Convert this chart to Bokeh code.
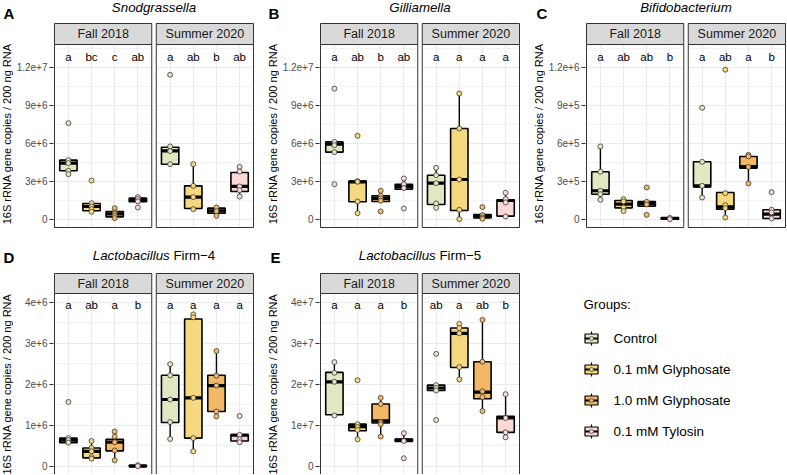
import math
from bokeh.plotting import figure
from bokeh.models import FixedTicker, CustomJSTickFormatter, Range1d
from bokeh.layouts import row, column
from bokeh.embed import file_html
from bokeh.resources import INLINE
from bokeh.core.properties import value

FONT = "Liberation Sans"

GROUPS = ["Control", "0.1 mM Glyphosate", "1.0 mM Glyphosate", "0.1 mM Tylosin"]
GROUP_COLORS = ["#E1E7C1", "#F6D880", "#F2B866", "#F8D9D6"]
SEASONS = ["Fall 2018", "Summer 2020"]
Y_LABEL = "16S rRNA gene copies / 200 ng RNA"

# ---------------- A: Snodgrassella ----------------
snod_ticks = [0, 3e6, 6e6, 9e6, 12e6]
snod_minor = [1.5e6, 4.5e6, 7.5e6, 10.5e6, 13.5e6]
snod_letters = [["a", "bc", "c", "ab"], ["a", "ab", "b", "ab"]]
snod_lo = [[3.55e6, 0.58e6, 0.08e6, 1.37e6], [4.34e6, 0.79e6, 0.26e6, 1.79e6]]
snod_q1 = [[3.82e6, 0.66e6, 0.18e6, 1.37e6], [4.34e6, 0.84e6, 0.47e6, 2.18e6]]
snod_med = [[4.42e6, 1.00e6, 0.42e6, 1.53e6], [5.39e6, 1.74e6, 0.66e6, 2.58e6]]
snod_q3 = [[4.66e6, 1.24e6, 0.60e6, 1.66e6], [5.68e6, 2.63e6, 0.87e6, 3.68e6]]
snod_hi = [[4.66e6, 1.26e6, 0.87e6, 1.74e6], [5.74e6, 4.34e6, 0.92e6, 4.13e6]]
snod_pts = [
    [[7.58e6, 4.66e6, 4.42e6, 3.82e6, 3.55e6], [3.05e6, 1.26e6, 1.00e6, 0.79e6, 0.58e6],
     [0.87e6, 0.53e6, 0.42e6, 0.26e6, 0.08e6], [1.74e6, 1.58e6, 1.40e6, 0.92e6]],
    [[11.4e6, 5.74e6, 5.37e6, 4.34e6], [4.34e6, 2.63e6, 1.74e6, 0.79e6],
     [0.92e6, 0.63e6, 0.26e6], [4.13e6, 3.76e6, 2.58e6, 2.29e6, 1.79e6]],
]

# ---------------- B: Gilliamella ----------------
gill_ticks = [0, 3e6, 6e6, 9e6, 12e6]
gill_minor = [1.5e6, 4.5e6, 7.5e6, 10.5e6, 13.5e6]
gill_letters = [["a", "ab", "b", "ab"], ["a", "a", "a", "a"]]
gill_lo = [[5.29e6, 0.47e6, 1.39e6, 2.37e6], [0.89e6, 0.00e6, 0.10e6, 0.21e6]]
gill_q1 = [[5.29e6, 1.37e6, 1.39e6, 2.37e6], [1.16e6, 0.68e6, 0.10e6, 0.24e6]]
gill_med = [[5.92e6, 2.95e6, 1.63e6, 2.58e6], [2.84e6, 3.13e6, 0.24e6, 1.47e6]]
gill_q3 = [[6.10e6, 3.00e6, 1.84e6, 2.76e6], [3.47e6, 7.16e6, 0.37e6, 1.53e6]]
gill_hi = [[6.10e6, 3.00e6, 2.24e6, 3.21e6], [4.05e6, 9.92e6, 0.37e6, 2.08e6]]
gill_pts = [
    [[10.3e6, 6.10e6, 5.84e6, 5.29e6, 2.76e6], [6.58e6, 3.00e6, 2.95e6, 1.39e6, 0.47e6],
     [2.24e6, 1.84e6, 1.63e6, 1.45e6, 0.61e6], [3.21e6, 2.76e6, 2.45e6, 0.84e6]],
    [[4.05e6, 3.47e6, 2.84e6, 1.24e6, 0.89e6], [9.92e6, 7.16e6, 3.13e6, 0.74e6, 0.00e6],
     [0.95e6, 0.32e6, 0.13e6, 0.03e6], [2.08e6, 1.58e6, 1.32e6, 0.21e6]],
]

# ---------------- C: Bifidobacterium ----------------
bifi_ticks = [0, 3e5, 6e5, 9e5, 12e5]
bifi_minor = [1.5e5, 4.5e5, 7.5e5, 10.5e5, 13.5e5]
bifi_letters = [["a", "ab", "ab", "b"], ["a", "ab", "a", "b"]]
bifi_lo = [[1.53e5, 0.63e5, 1.03e5, 0.00e5], [1.71e5, 0.13e5, 2.82e5, 0.05e5]]
bifi_q1 = [[1.97e5, 0.89e5, 1.03e5, 0.00e5], [2.55e5, 0.79e5, 4.03e5, 0.05e5]]
bifi_med = [[2.24e5, 1.18e5, 1.24e5, 0.05e5], [2.63e5, 0.97e5, 4.15e5, 0.39e5]]
bifi_q3 = [[3.74e5, 1.47e5, 1.39e5, 0.13e5], [4.53e5, 2.10e5, 4.95e5, 0.74e5]]
bifi_hi = [[5.74e5, 1.58e5, 1.39e5, 0.13e5], [4.53e5, 2.10e5, 5.08e5, 0.74e5]]
bifi_pts = [
    [[5.74e5, 3.74e5, 2.24e5, 1.97e5, 1.53e5], [1.58e5, 1.39e5, 0.92e5, 0.63e5],
     [2.50e5, 1.37e5, 1.16e5, 0.34e5], [0.10e5, 0.00e5]],
    [[8.79e5, 4.53e5, 2.63e5, 1.71e5], [11.8e5, 2.05e5, 1.10e5, 0.87e5, 0.13e5],
     [5.08e5, 4.95e5, 4.13e5, 2.82e5], [2.13e5, 0.74e5, 0.53e5, 0.05e5]],
]

# ---------------- D: Lactobacillus Firm-4 ----------------
firm4_ticks = [0, 1e6, 2e6, 3e6, 4e6]
firm4_minor = [0.5e6, 1.5e6, 2.5e6, 3.5e6]
firm4_letters = [["a", "ab", "a", "b"], ["a", "a", "a", "a"]]
firm4_lo = [[0.58e6, 0.19e6, 0.15e6, 0.00e6], [0.67e6, 0.37e6, 1.22e6, 0.59e6]]
firm4_q1 = [[0.58e6, 0.21e6, 0.38e6, 0.00e6], [1.07e6, 0.69e6, 1.34e6, 0.62e6]]
firm4_med = [[0.64e6, 0.37e6, 0.59e6, 0.01e6], [1.63e6, 1.67e6, 1.97e6, 0.76e6]]
firm4_q3 = [[0.69e6, 0.45e6, 0.66e6, 0.03e6], [2.22e6, 3.59e6, 2.22e6, 0.78e6]]
firm4_hi = [[0.69e6, 0.62e6, 0.85e6, 0.03e6], [2.49e6, 3.70e6, 2.81e6, 0.78e6]]
firm4_pts = [
    [[1.57e6, 0.69e6, 0.64e6, 0.58e6], [0.62e6, 0.45e6, 0.37e6, 0.23e6, 0.19e6],
     [0.85e6, 0.73e6, 0.59e6, 0.39e6, 0.15e6], [0.03e6, 0.01e6]],
    [[2.49e6, 2.22e6, 1.63e6, 1.08e6, 0.67e6], [3.70e6, 3.63e6, 1.67e6, 0.69e6, 0.37e6],
     [2.81e6, 2.21e6, 1.97e6, 1.34e6, 1.22e6], [1.23e6, 0.77e6, 0.66e6, 0.59e6]],
]

# ---------------- E: Lactobacillus Firm-5 ----------------
firm5_ticks = [0, 1e7, 2e7, 3e7, 4e7]
firm5_minor = [0.5e7, 1.5e7, 2.5e7, 3.5e7]
firm5_letters = [["a", "a", "a", "b"], ["ab", "a", "ab", "b"]]
firm5_lo = [[1.24e7, 0.66e7, 0.73e7, 0.61e7], [1.85e7, 2.12e7, 1.35e7, 0.71e7]]
firm5_q1 = [[1.26e7, 0.87e7, 1.06e7, 0.61e7], [1.85e7, 2.41e7, 1.65e7, 0.83e7]]
firm5_med = [[2.06e7, 0.97e7, 1.11e7, 0.64e7], [1.91e7, 3.24e7, 1.81e7, 1.18e7]]
firm5_q3 = [[2.29e7, 1.03e7, 1.52e7, 0.67e7], [1.98e7, 3.37e7, 2.55e7, 1.22e7]]
firm5_hi = [[2.54e7, 1.03e7, 1.67e7, 0.81e7], [1.98e7, 3.47e7, 3.57e7, 1.76e7]]
firm5_pts = [
    [[2.54e7, 2.28e7, 2.06e7, 1.24e7], [2.10e7, 1.03e7, 0.96e7, 0.89e7, 0.66e7],
     [1.67e7, 1.52e7, 1.08e7, 1.03e7, 0.73e7], [0.81e7, 0.62e7, 0.20e7]],
    [[2.74e7, 1.98e7, 1.91e7, 1.85e7, 1.13e7], [3.47e7, 3.37e7, 3.24e7, 2.42e7, 2.12e7],
     [3.57e7, 2.55e7, 1.83e7, 1.69e7, 1.35e7], [1.76e7, 1.18e7, 0.83e7, 0.71e7]],
]


def blank_fig(w, h):
    f = figure(width=w, height=h, x_range=Range1d(0, w), y_range=Range1d(0, h),
               x_axis_location=None, y_axis_location=None, toolbar_location=None,
               output_backend="svg", min_border=0, min_border_left=0, min_border_right=0,
               min_border_top=0, min_border_bottom=0, outline_line_color=None,
               background_fill_color="white", border_fill_color="white")
    f.grid.visible = False
    return f


def make_column(col_w, header_h, body_h, b_bottom, data_px, strip_px, pad_bottom,
                ylim, ticks, minor, letter_y, letters, lo, q1, med, q3, hi, pts,
                title, title_extra, tag, tag_x, tag_top, title_top):
    pad = 1
    side_w = 13
    b_left = 40
    panel_px = 199
    gap_px = 4.5
    frame_w = panel_px + 2 * pad
    body_w = col_w - side_w
    b_right = body_w - b_left - frame_w
    facet_px = (panel_px - gap_px) / 2
    u = facet_px / 4.2
    gap_u = gap_px / u
    off = 4.2 + gap_u
    ylo, yhi = ylim
    s = data_px / (yhi - ylo)
    strip_top = yhi + strip_px / s
    x0 = 0.4 - pad / u
    x1 = 0.4 + 4.2 + off + pad / u
    y0 = ylo - pad_bottom / s
    y1 = strip_top + pad / s

    p = figure(width=body_w, height=body_h, x_range=Range1d(x0, x1), y_range=Range1d(y0, y1),
               x_axis_location=None, y_axis_location="left", toolbar_location=None,
               output_backend="svg", min_border_left=b_left, min_border_right=b_right,
               min_border_top=0, min_border_bottom=b_bottom, outline_line_color=None,
               background_fill_color="white", border_fill_color="white")

    xcat = [g + 1 + f * off for f in range(2) for g in range(4)]
    ytk = FixedTicker(ticks=ticks, minor_ticks=minor)
    p.yaxis.ticker = ytk
    p.ygrid.ticker = ytk
    p.ygrid.grid_line_color = "#EBEBEB"
    p.ygrid.grid_line_width = 1
    p.ygrid.minor_grid_line_color = "#EBEBEB"
    p.ygrid.minor_grid_line_width = 0.6
    p.xgrid.ticker = FixedTicker(ticks=xcat)
    p.xgrid.grid_line_color = "#EBEBEB"
    p.xgrid.grid_line_width = 1
    ax = p.yaxis[0]
    ax.formatter = CustomJSTickFormatter(code="return tick == 0 ? '0' : tick.toExponential();")
    ax.axis_line_color = None
    ax.major_tick_line_color = "#333333"
    ax.major_tick_out = 4
    ax.major_tick_in = 0
    ax.minor_tick_line_color = None
    ax.major_label_standoff = 2
    ax.major_label_text_font = FONT
    ax.major_label_text_font_size = "10px"
    ax.major_label_text_color = "#4D4D4D"

    fl = [0.4, 0.4 + off]
    fr = [4.6, 4.6 + off]
    # white masks: padding and gap between facets
    p.quad(left=[x0, fr[0], fr[1], x0, x0], right=[fl[0], fl[1], x1, x1, x1],
           bottom=[y0, y0, y0, strip_top, y0], top=[y1, y1, y1, y1, ylo],
           fill_color="white", line_color=None)
    # panel borders
    p.quad(left=fl, right=fr, bottom=[ylo, ylo], top=[yhi, yhi],
           fill_color=None, line_color="#333333", line_width=1)
    # strips
    p.quad(left=fl, right=fr, bottom=[yhi, yhi], top=[strip_top, strip_top],
           fill_color="#D9D9D9", line_color="#333333", line_width=1)
    p.text(x=[(a + b) / 2 for a, b in zip(fl, fr)], y=[(yhi + strip_top) / 2] * 2,
           text=SEASONS, text_font=value(FONT), text_font_size="12.5px",
           text_align="center", text_baseline="middle", text_color="#1A1A1A")
    # significance letters
    p.text(x=xcat, y=[letter_y] * 8, text=[t for f in range(2) for t in letters[f]],
           text_font=value(FONT), text_font_size="11.5px", text_align="center",
           text_baseline="middle", text_color="black")

    flo = [lo[f][g] for f in range(2) for g in range(4)]
    fq1 = [q1[f][g] for f in range(2) for g in range(4)]
    fmed = [med[f][g] for f in range(2) for g in range(4)]
    fq3 = [q3[f][g] for f in range(2) for g in range(4)]
    fhi = [hi[f][g] for f in range(2) for g in range(4)]
    cols = [GROUP_COLORS[g] for f in range(2) for g in range(4)]
    hw = 0.375
    p.segment(x0=xcat + xcat, y0=fq3 + flo, x1=xcat + xcat, y1=fhi + fq1,
              line_color="black", line_width=1.4)
    p.vbar(x=xcat, width=0.75, bottom=fq1, top=fq3, fill_color=cols,
           line_color="black", line_width=1.6)
    p.segment(x0=[x - hw for x in xcat], x1=[x + hw for x in xcat], y0=fmed, y1=fmed,
              line_color="black", line_width=3.2)
    px, py, pc = [], [], []
    for f in range(2):
        for g in range(4):
            for v in pts[f][g]:
                px.append(g + 1 + f * off)
                py.append(v)
                pc.append(GROUP_COLORS[g])
    p.scatter(x=px, y=py, size=5, fill_color=pc, line_color="#3A3A3A", line_width=0.8)

    # y-axis title strip (left of axis)
    side = blank_fig(side_w, body_h)
    center_from_top = pad + strip_px + data_px / 2
    side.text(x=[6], y=[body_h - center_from_top], text=[Y_LABEL], angle=math.pi / 2,
              text_font=value(FONT), text_font_size="11px", text_align="center",
              text_baseline="middle", text_color="black")

    # header: panel tag + title
    head = blank_fig(col_w, header_h)
    head.text(x=[tag_x], y=[header_h - tag_top], text=[tag], text_font=value(FONT),
              text_font_size="15px", text_font_style="bold", text_align="left",
              text_baseline="middle", text_color="black")
    cx = side_w + b_left + frame_w / 2
    ty = header_h - title_top
    if title_extra is None:
        head.text(x=[cx], y=[ty], text=[title], text_font=value(FONT), text_font_size="13.3px",
                  text_font_style="italic", text_align="center", text_baseline="middle",
                  text_color="black")
    else:
        head.text(x=[cx + 15.7], y=[ty], text=[title], text_font=value(FONT),
                  text_font_size="13.3px", text_font_style="italic", text_align="right",
                  text_baseline="middle", text_color="black")
        head.text(x=[cx + 19.4], y=[ty], text=[title_extra], text_font=value(FONT),
                  text_font_size="13.3px", text_align="left", text_baseline="middle",
                  text_color="black")
    return column(head, row(side, p))


TOP = dict(header_h=22, body_h=210, b_bottom=4, data_px=183, strip_px=21, pad_bottom=1,
           tag_top=12.5, title_top=7)
BOT = dict(header_h=40, body_h=202, b_bottom=0, data_px=181, strip_px=20, pad_bottom=0,
           tag_top=25, title_top=23.3)

colA = make_column(266, ylim=(-0.66e6, 13.79e6), ticks=snod_ticks, minor=snod_minor,
                   letter_y=12.78e6, letters=snod_letters, lo=snod_lo, q1=snod_q1, med=snod_med,
                   q3=snod_q3, hi=snod_hi, pts=snod_pts, title="Snodgrassella", title_extra=None,
                   tag="A", tag_x=3, **TOP)
colB = make_column(266, ylim=(-0.66e6, 13.79e6), ticks=gill_ticks, minor=gill_minor,
                   letter_y=12.78e6, letters=gill_letters, lo=gill_lo, q1=gill_q1, med=gill_med,
                   q3=gill_q3, hi=gill_hi, pts=gill_pts, title="Gilliamella", title_extra=None,
                   tag="B", tag_x=2, **TOP)
colC = make_column(254, ylim=(-0.66e5, 13.79e5), ticks=bifi_ticks, minor=bifi_minor,
                   letter_y=12.78e5, letters=bifi_letters, lo=bifi_lo, q1=bifi_q1, med=bifi_med,
                   q3=bifi_q3, hi=bifi_hi, pts=bifi_pts, title="Bifidobacterium", title_extra=None,
                   tag="C", tag_x=4, **TOP)
colD = make_column(266, ylim=(-0.195e6, 4.21e6), ticks=firm4_ticks, minor=firm4_minor,
                   letter_y=3.93e6, letters=firm4_letters, lo=firm4_lo, q1=firm4_q1, med=firm4_med,
                   q3=firm4_q3, hi=firm4_hi, pts=firm4_pts, title="Lactobacillus",
                   title_extra="Firm\u22124", tag="D", tag_x=3, **BOT)
colE = make_column(266, ylim=(-0.195e7, 4.21e7), ticks=firm5_ticks, minor=firm5_minor,
                   letter_y=3.93e7, letters=firm5_letters, lo=firm5_lo, q1=firm5_q1, med=firm5_med,
                   q3=firm5_q3, hi=firm5_hi, pts=firm5_pts, title="Lactobacillus",
                   title_extra="Firm\u22125", tag="E", tag_x=4, **BOT)

# ---------------- legend ----------------
pL = blank_fig(254, 242)
key_cy = [136, 105, 74, 43]
key_cx = 59
pL.text(x=[51], y=[170], text=["Groups:"], text_font=value(FONT), text_font_size="13.3px",
        text_align="left", text_baseline="middle", text_color="black")
pL.segment(x0=[key_cx] * 4, x1=[key_cx] * 4, y0=[c - 7 for c in key_cy], y1=[c + 7 for c in key_cy],
           line_color="black", line_width=1.2)
pL.vbar(x=[key_cx] * 4, width=13, bottom=[c - 4.5 for c in key_cy], top=[c + 4.5 for c in key_cy],
        fill_color=GROUP_COLORS, line_color="black", line_width=1.2)
pL.segment(x0=[key_cx - 6.5] * 4, x1=[key_cx + 6.5] * 4, y0=key_cy, y1=key_cy,
           line_color="black", line_width=2)
pL.scatter(x=[key_cx] * 4, y=key_cy, size=4, fill_color=GROUP_COLORS, line_color="#3A3A3A",
           line_width=0.7)
pL.text(x=[81] * 4, y=key_cy, text=GROUPS, text_font=value(FONT), text_font_size="13.5px",
        text_align="left", text_baseline="middle", text_color="black")

layout = column(row(colA, colB, colC), row(colD, colE, pL))

with open("out.html", "w") as fh:
    fh.write(file_html(layout, INLINE))
